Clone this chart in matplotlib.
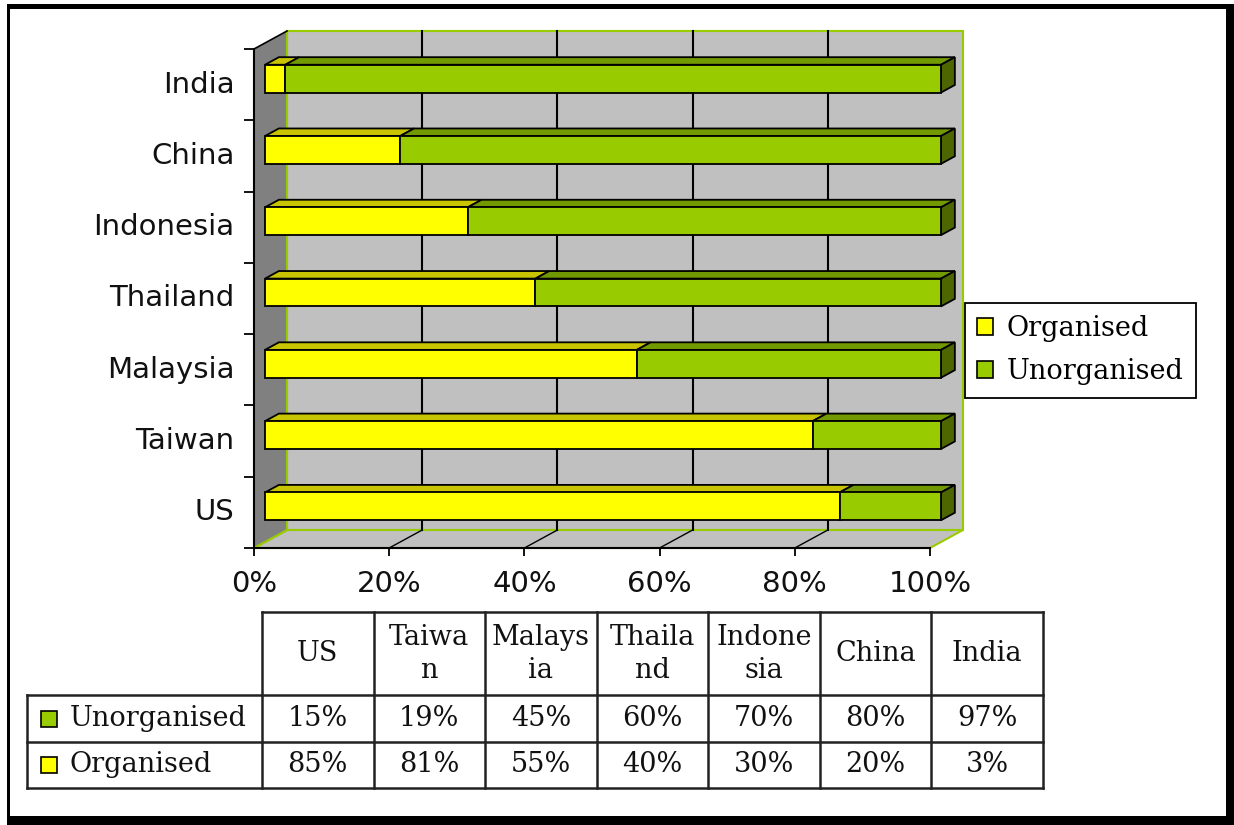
import numpy as np
import matplotlib
matplotlib.use("Agg")
import matplotlib.pyplot as plt
from matplotlib.patches import Polygon, Rectangle, Patch

# data
countries = ["US", "Taiwan", "Malaysia", "Thailand", "Indonesia", "China", "India"]
header_labels = ["US", "Taiwa\nn", "Malays\nia", "Thaila\nnd", "Indone\nsia", "China", "India"]
organised = [85, 81, 55, 40, 30, 20, 3]
unorganised = [15, 19, 45, 60, 70, 80, 97]
x_ticks = [0, 20, 40, 60, 80, 100]
series_names = ["Unorganised", "Organised"]

# colours
yellow, yellow_top = "#FFFF00", "#C8C400"
green, green_top, green_side = "#99CC00", "#739900", "#4D6600"
wall, side_wall, wall_edge = "#C0C0C0", "#808080", "#99CC00"

W, H = 1234, 825
fig = plt.figure(figsize=(W / 100, H / 100), dpi=100)


def fx(px):
    return px / W


def fy(py):
    return 1 - py / H


# outer frame with shadow
for (x0, y0, x1, y1) in [(7, 4, 1227, 9), (7, 4, 10, 817), (1226, 4, 1234, 825), (7, 816, 1234, 825)]:
    fig.add_artist(Rectangle((fx(x0), fy(y1)), fx(x1) - fx(x0), fy(y0) - fy(y1),
                             transform=fig.transFigure, fc="black", ec="none"))

# main 3d-ish bar chart
ax = fig.add_axes([fx(254), fy(548), fx(930) - fx(254), fy(49) - fy(548)])
n = len(countries)
ax.set_xlim(0, 100)
ax.set_ylim(-0.5, n - 0.5)
ax.patch.set_visible(False)

dx = 33 / 6.76            # depth in x (percent units)
dy = 18 / (499 / n)       # depth in y (category units)
ylo, yhi = -0.5, n - 0.5

# back wall
ax.add_patch(Polygon([(dx, ylo + dy), (100 + dx, ylo + dy), (100 + dx, yhi + dy), (dx, yhi + dy)],
                     closed=True, fc=wall, ec=wall_edge, lw=1.5, clip_on=False, zorder=1))
# floor
ax.add_patch(Polygon([(0, ylo), (100, ylo), (100 + dx, ylo + dy), (dx, ylo + dy)],
                     closed=True, fc=wall, ec=wall_edge, lw=1.5, clip_on=False, zorder=1))
# left side wall
ax.add_patch(Polygon([(0, ylo), (0, yhi), (dx, yhi + dy), (dx, ylo + dy)],
                     closed=True, fc=side_wall, ec="none", clip_on=False, zorder=1.1))
ax.plot([dx, dx], [ylo + dy, yhi + dy], color=wall_edge, lw=1.5, clip_on=False, zorder=1.2)
ax.plot([0, dx], [yhi, yhi + dy], color="black", lw=1.2, clip_on=False, zorder=1.2)

# gridlines on wall and floor
for t in x_ticks[1:-1]:
    ax.plot([t + dx, t + dx], [ylo + dy, yhi + dy], color="black", lw=1.5, clip_on=False, zorder=1.3)
    ax.plot([t, t + dx], [ylo, ylo + dy], color="black", lw=1, clip_on=False, zorder=1.3)
ax.plot([0, dx], [ylo, ylo + dy], color=wall_edge, lw=1.5, clip_on=False, zorder=1.3)

# bars
f0, bd = 1 / 3, 0.42
bh = 0.39
sx, sy = f0 * dx, f0 * dy
bx, by = bd * dx, bd * dy
for i in range(n):
    yc = i + sy
    yb, yt = yc - bh / 2, yc + bh / 2
    segs = [(0, organised[i], yellow, yellow_top), (organised[i], 100, green, green_top)]
    for (a, b, fc, tc) in segs:
        x0, x1 = a + sx, b + sx
        ax.add_patch(Polygon([(x0, yt), (x1, yt), (x1 + bx, yt + by), (x0 + bx, yt + by)],
                             closed=True, fc=tc, ec="black", lw=1.3, clip_on=False, zorder=3))
        ax.add_patch(Polygon([(x0, yb), (x1, yb), (x1, yt), (x0, yt)],
                             closed=True, fc=fc, ec="black", lw=1.3, clip_on=False, zorder=4))
    xe = 100 + sx
    ax.add_patch(Polygon([(xe, yb), (xe, yt), (xe + bx, yt + by), (xe + bx, yb + by)],
                         closed=True, fc=green_side, ec="black", lw=1.3, clip_on=False, zorder=3))

# axes styling
for s in ["top", "right"]:
    ax.spines[s].set_visible(False)
for s in ["left", "bottom"]:
    ax.spines[s].set_linewidth(1.5)
    ax.spines[s].set_zorder(2)

ax.set_yticks(range(n))
ax.set_yticklabels(countries, fontsize=21, family="DejaVu Sans", color="#111111", va="center")
ax.set_yticks(np.arange(-0.5, n, 1), minor=True)
ax.tick_params(axis="y", which="major", length=0, pad=14)
ax.tick_params(axis="y", which="minor", length=7.5, width=1.3)
ax.set_xticks(x_ticks)
ax.set_xticklabels([f"{t}%" for t in x_ticks], fontsize=21, family="DejaVu Sans", color="#111111")
ax.tick_params(axis="x", which="major", length=6, width=1.3, pad=10)

# legend
leg = fig.legend(handles=[Patch(fc=yellow, ec="black", lw=1.2), Patch(fc=green, ec="black", lw=1.2)],
                 labels=["Organised", "Unorganised"], loc="upper left",
                 bbox_to_anchor=(fx(965), fy(303)), prop=dict(family="DejaVu Serif", size=19.5),
                 frameon=True, fancybox=False, edgecolor="black", framealpha=1, borderaxespad=0,
                 handlelength=0.6, handleheight=0.6, handletextpad=0.5, labelspacing=0.6,
                 borderpad=0.45)
leg.get_frame().set_linewidth(1.3)

# data table
lab_w = 235 / 111.6
hdr_h = 1.8
tax = fig.add_axes([fx(27), fy(788), fx(1043) - fx(27), fy(612) - fy(788)])
tax.set_xlim(-lab_w, n)
tax.set_ylim(0, 2 + hdr_h)
tax.axis("off")
lc = dict(color="#222222", lw=1.8, solid_capstyle="projecting", clip_on=False)
for yy in [0, 1, 2]:
    tax.plot([-lab_w, n], [yy, yy], **lc)
tax.plot([0, n], [2 + hdr_h, 2 + hdr_h], **lc)
tax.plot([-lab_w, -lab_w], [0, 2], **lc)
for j in range(n + 1):
    tax.plot([j, j], [0, 2 + hdr_h], **lc)

tfont = dict(family="DejaVu Serif", size=19.5, color="#111111")
for j in range(n):
    tax.text(j + 0.5, 2 + hdr_h / 2, header_labels[j], ha="center", va="center",
             linespacing=1.3, **tfont)
    tax.text(j + 0.5, 1.5, f"{unorganised[j]}%", ha="center", va="center", **tfont)
    tax.text(j + 0.5, 0.5, f"{organised[j]}%", ha="center", va="center", **tfont)

row_colors = [green, yellow]
for r, (name, c) in enumerate(zip(series_names, row_colors)):
    yy = 1.5 - r
    tax.plot([-lab_w + 0.2], [yy], marker="s", ms=11, mfc=c, mec="black", mew=1.2, ls="none")
    tax.text(-lab_w + 0.385, yy, name, ha="left", va="center", **tfont)

fig.savefig("out.png", dpi=100)
